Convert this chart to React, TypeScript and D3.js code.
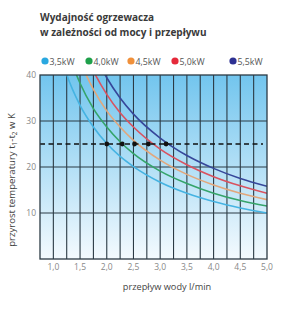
import React from "react";
import * as d3 from "d3";

const flows = [1.0, 1.25, 1.5, 1.75, 2.0, 2.25, 2.5, 3.0, 3.5, 4.0, 4.5, 5.0];
const s35 = [50.2, 40.1, 33.4, 28.7, 25.1, 22.3, 20.1, 16.7, 14.3, 12.5, 11.1, 10.0];
const s40 = [57.3, 45.9, 38.2, 32.7, 28.7, 25.5, 22.9, 19.1, 16.4, 14.3, 12.7, 11.5];
const s45 = [64.5, 51.6, 43.0, 36.9, 32.2, 28.7, 25.8, 21.5, 18.4, 16.1, 14.3, 12.9];
const s50 = [71.7, 57.3, 47.8, 40.9, 35.8, 31.8, 28.7, 23.9, 20.5, 17.9, 15.9, 14.3];
const s55 = [78.8, 63.1, 52.5, 45.0, 39.4, 35.0, 31.5, 26.3, 22.5, 19.7, 17.5, 15.8];
const seriesNames = ["3,5kW", "4,0kW", "4,5kW", "5,0kW", "5,5kW"];
const seriesValues = [s35, s40, s45, s50, s55];
const lineColors = ["#45b3e2", "#35a46a", "#e2a77c", "#d9525f", "#36479a"];
const legendColors = ["#2aa8e0", "#1fa04b", "#f0903a", "#e5293a", "#2e3192"];
const refTemp = 25;
const refFlows = [2.0, 2.29, 2.52, 2.78, 3.11];
const xTicks = [1.0, 1.5, 2.0, 2.5, 3.0, 3.5, 4.0, 4.5, 5.0];
const xGrid = d3.range(1.0, 5.0, 0.25);
const yTicks = [10, 20, 30];
const yTickLabels = [10, 20, 30, 40];

export default function App() {
  const left = 40, right = 267, top = 75, bottom = 259;
  const x = d3.scaleLinear().domain([0.75, 5.0]).range([left, right]);
  const y = d3.scaleLinear().domain([0, 40]).range([bottom, top]);
  const line = d3
    .line<[number, number]>()
    .x((d) => x(d[0]))
    .y((d) => y(d[1]))
    .curve(d3.curveMonotoneX);
  const fmt = (v: number) => v.toFixed(1).replace(".", ",");
  const legendX = [45, 89, 131, 175, 233];
  const font = "'Open Sans', 'DejaVu Sans', sans-serif";
  const narrow = "'Liberation Sans Narrow', 'Open Sans', sans-serif";

  return (
    <svg
      width={300}
      height={313}
      style={{ position: "absolute", left: 0, top: 0, background: "#fff" }}
    >
      <defs>
        <linearGradient id="bg" x1="0" y1="0" x2="0" y2="1">
          <stop offset="0" stopColor="#72c5ee" />
          <stop offset="1" stopColor="#f4fafe" />
        </linearGradient>
        <clipPath id="plot">
          <rect x={left} y={top} width={right - left} height={bottom - top} />
        </clipPath>
      </defs>
      <text x={40} y={21} fontFamily={font} fontWeight={700} fontSize={10} fill="#3a3a3a">
        Wydajność ogrzewacza
      </text>
      <text x={40} y={36} fontFamily={font} fontWeight={700} fontSize={10} fill="#3a3a3a">
        w zależności od mocy i przepływu
      </text>
      {seriesNames.map((n, i) => (
        <g key={n}>
          <circle cx={legendX[i]} cy={61} r={3.6} fill={legendColors[i]} />
          <text x={legendX[i] + 4.5} y={64.5} fontFamily={font} fontSize={8.8} fill="#555">
            {n}
          </text>
        </g>
      ))}
      <rect x={left} y={top} width={right - left} height={bottom - top} fill="url(#bg)" />
      {xGrid.map((v) => (
        <line key={v} x1={x(v)} x2={x(v)} y1={top} y2={bottom} stroke="#2b3a44" strokeWidth={1.1} />
      ))}
      {yTicks.map((v) => (
        <line key={v} x1={left} x2={right} y1={y(v)} y2={y(v)} stroke="#2b3a44" strokeWidth={1.1} />
      ))}
      <g clipPath="url(#plot)">
        {seriesValues.map((vals, i) => (
          <path
            key={i}
            d={line(flows.map((f, j) => [f, vals[j]] as [number, number])) || ""}
            fill="none"
            stroke={lineColors[i]}
            strokeWidth={1.6}
          />
        ))}
      </g>
      <line
        x1={left}
        x2={263}
        y1={y(refTemp)}
        y2={y(refTemp)}
        stroke="#111"
        strokeWidth={1.4}
        strokeDasharray="5,3.5"
      />
      {refFlows.map((f, i) => (
        <circle key={i} cx={x(f)} cy={y(refTemp)} r={2.4} fill="#111" />
      ))}
      <rect
        x={left}
        y={top}
        width={right - left}
        height={bottom - top}
        fill="none"
        stroke="#2b3a44"
        strokeWidth={1.3}
      />
      {xTicks.map((v) => (
        <text key={v} x={x(v)} y={270} textAnchor="middle" fontFamily={narrow} fontSize={8.5} fill="#888">
          {fmt(v)}
        </text>
      ))}
      {yTickLabels.map((v) => (
        <text key={v} x={36} y={y(v) + 3} textAnchor="end" fontFamily={narrow} fontSize={8.5} fill="#888">
          {v}
        </text>
      ))}
      <text x={167} y={290} textAnchor="middle" fontFamily={narrow} fontSize={9.2} fill="#444">
        przepływ wody l/min
      </text>
      <text
        transform="translate(15,180) rotate(-90)"
        textAnchor="middle"
        fontFamily={narrow}
        fontSize={9.6}
        fill="#444"
      >
        przyrost temperatury t
        <tspan fontSize={6.5} dy={2}>1</tspan>
        <tspan dy={-2}>-t</tspan>
        <tspan fontSize={6.5} dy={2}>2</tspan>
        <tspan dy={-2}> w K</tspan>
      </text>
    </svg>
  );
}
